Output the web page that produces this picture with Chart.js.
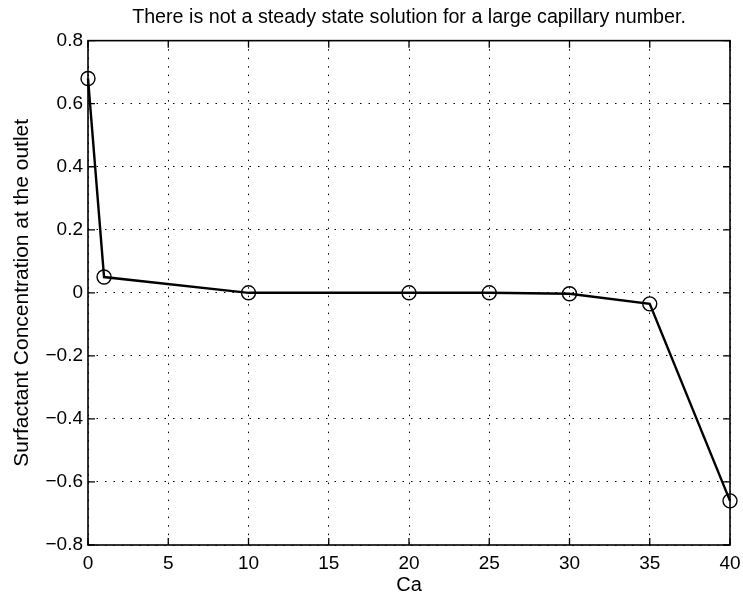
<!DOCTYPE html>
<html>
<head>
<meta charset="utf-8">
<script src="https://cdn.jsdelivr.net/npm/chart.js@4"></script>
<style>
  html, body { margin: 0; padding: 0; background: #fff; }
  #wrap { width: 743px; height: 597px; }
</style>
</head>
<body>
<div id="wrap"><canvas id="chart" width="743" height="597"></canvas></div>
<script>
// capillary number vs surfactant concentration at the outlet
const caValues = [0, 1, 10, 20, 25, 30, 35, 40];
const concValues = [0.68, 0.05, 0.0, 0.0, 0.0, -0.003, -0.035, -0.66];
const xTicks = [0, 5, 10, 15, 20, 25, 30, 35, 40];
const yTicks = [-0.8, -0.6, -0.4, -0.2, 0, 0.2, 0.4, 0.6, 0.8];

const FONT = "'Liberation Sans', Arial, Helvetica, sans-serif";

// box around the plot plus inward tick marks, matlab style
const boxPlugin = {
    id: 'box',
    afterDraw(chart) {
        const {ctx, chartArea: a, scales} = chart;
        ctx.save();
        ctx.strokeStyle = '#000';
        ctx.lineWidth = 1.6;
        ctx.strokeRect(a.left, a.top, a.right - a.left, a.bottom - a.top);
        ctx.lineWidth = 1.3;
        const len = 7;
        xTicks.forEach(v => {
            const x = scales.x.getPixelForValue(v);
            ctx.beginPath();
            ctx.moveTo(x, a.bottom); ctx.lineTo(x, a.bottom - len);
            ctx.moveTo(x, a.top); ctx.lineTo(x, a.top + len);
            ctx.stroke();
        });
        yTicks.forEach(v => {
            const y = scales.y.getPixelForValue(v);
            ctx.beginPath();
            ctx.moveTo(a.left, y); ctx.lineTo(a.left + len, y);
            ctx.moveTo(a.right, y); ctx.lineTo(a.right - len, y);
            ctx.stroke();
        });
        ctx.restore();
    }
};

const ctx = document.getElementById('chart').getContext('2d');
new Chart(ctx, {
    type: 'line',
    data: {
        datasets: [{
            data: caValues.map((x, i) => ({x: x, y: concValues[i]})),
            borderColor: '#000',
            borderWidth: 2.4,
            tension: 0,
            pointStyle: 'circle',
            pointRadius: 7,
            pointBorderWidth: 1.4,
            pointBorderColor: '#000',
            pointBackgroundColor: 'rgba(0,0,0,0)',
            clip: false
        }]
    },
    options: {
        responsive: false,
        animation: false,
        layout: { padding: { left: 0, right: 13, top: 0, bottom: 0 } },
        plugins: {
            legend: { display: false },
            tooltip: { enabled: false },
            title: {
                display: true,
                fullSize: false,
                text: 'There is not a steady state solution for a large capillary number.',
                color: '#000',
                font: { family: FONT, size: 19.7, weight: 'normal', lineHeight: 1.2 },
                padding: { top: 6, bottom: 11 }
            }
        },
        scales: {
            x: {
                type: 'linear',
                min: 0,
                max: 40,
                afterBuildTicks: s => { s.ticks = xTicks.map(v => ({value: v})); },
                afterFit: s => { s.height = 52; s.paddingLeft = 0; s.paddingRight = 0; },
                grid: {
                    color: '#000',
                    lineWidth: 1,
                    drawTicks: false
                },
                border: { display: false, dash: [1.5, 7] },
                ticks: {
                    color: '#000',
                    padding: 7,
                    maxRotation: 0,
                    font: { family: FONT, size: 19 },
                    callback: v => String(v)
                },
                title: {
                    display: true,
                    text: 'Ca',
                    color: '#000',
                    font: { family: FONT, size: 20 },
                    padding: { top: 0, bottom: 0 }
                }
            },
            y: {
                type: 'linear',
                min: -0.8,
                max: 0.8,
                afterBuildTicks: s => { s.ticks = yTicks.map(v => ({value: v})); },
                afterFit: s => { s.width = 88; },
                grid: {
                    color: '#000',
                    lineWidth: 1,
                    drawTicks: false
                },
                border: { display: false, dash: [1.5, 7] },
                ticks: {
                    color: '#000',
                    padding: 5,
                    font: { family: FONT, size: 19 },
                    callback: v => (Math.abs(v) < 1e-9 ? '0' : v.toFixed(1)).replace('-', '\u2212')
                },
                title: {
                    display: true,
                    text: 'Surfactant Concentration at the outlet',
                    color: '#000',
                    font: { family: FONT, size: 21 },
                    padding: { top: 10, bottom: 0 }
                }
            }
        }
    },
    plugins: [boxPlugin]
});
</script>
</body>
</html>
